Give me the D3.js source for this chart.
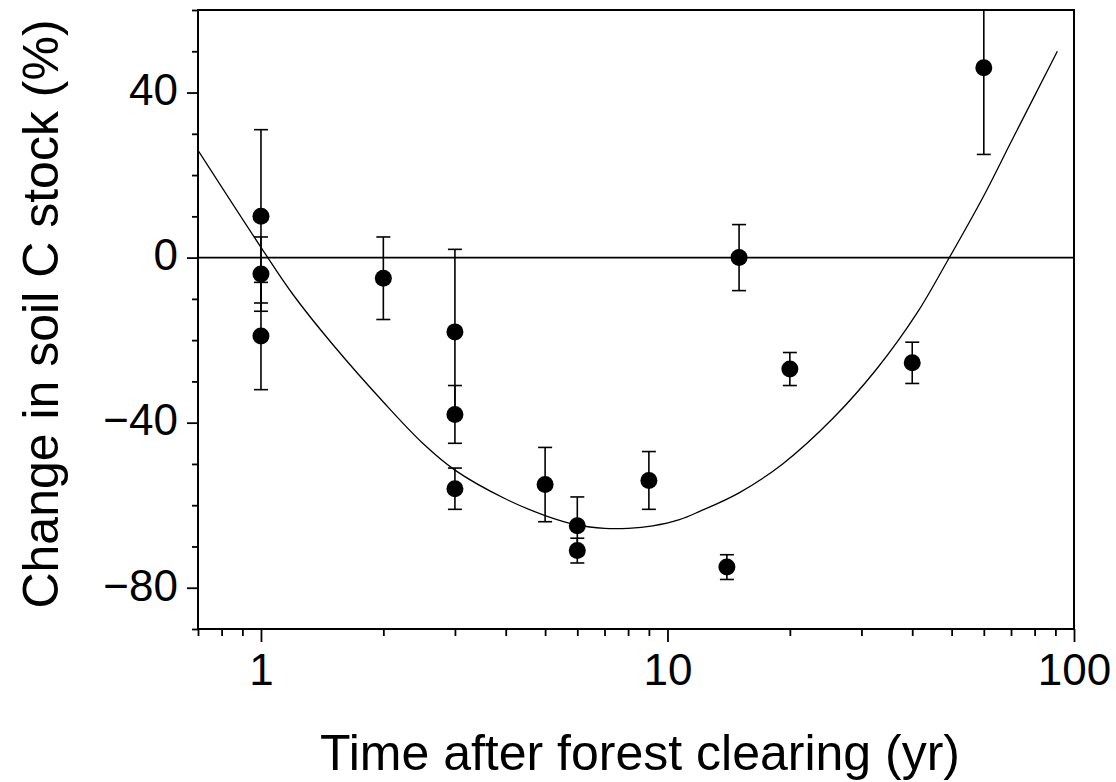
<!DOCTYPE html>
<html>
<head>
<meta charset="utf-8">
<script src="https://cdn.jsdelivr.net/npm/d3@7"></script>
<style>
  body { margin: 0; background: #fff; }
  text { font-family: "Liberation Sans", Arial, sans-serif; fill: #000; }
</style>
</head>
<body>
<div id="chart"></div>
<script>
// measured points: time after clearing (yr), change in soil C (%), error (+/-)
var years   = [1, 1, 1, 2, 3, 3, 3, 5, 6, 6, 9, 14, 15, 20, 40, 60];
var changes = [10, -4, -19, -5, -18, -38, -56, -55, -65, -71, -54, -75, 0, -27, -25.5, 46];
var errors  = [21, 9, 13, 10, 20, 7, 5, 9, 7, 3, 7, 3, 8, 4, 5, 21];

// fitted curve
var fitYears  = [0.7, 1, 1.2, 1.5, 2, 2.5, 3, 4, 5, 6, 7, 8, 9.2, 10.7, 12, 15, 19.2, 25.5, 32.7, 41, 48.7, 60, 70, 91];
var fitChange = [26, 2.5, -9, -21, -35, -45, -51.5, -58.5, -62.5, -64.8, -65.6, -65.6, -65, -63.5, -61.5, -57, -50, -39, -27, -13.6, -1, 15, 28, 50];

// ticks
var xMajor = [1, 10, 100];
var xMinor = [0.7, 0.8, 0.9, 2, 3, 4, 5, 6, 7, 8, 9, 20, 30, 40, 50, 60, 70, 80, 90];
var yMajor = [-80, -40, 0, 40];
var yMinor = [-90, -70, -60, -50, -30, -20, -10, 10, 20, 30, 50, 60];

var margin = {top: 10, right: 42, bottom: 153, left: 198},
    width = 1116 - margin.left - margin.right,
    height = 782 - margin.top - margin.bottom;

var svg = d3.select("#chart")
  .append("svg")
    .attr("width", 1116)
    .attr("height", 782)
  .append("g")
    .attr("transform", "translate(" + margin.left + "," + margin.top + ")");

var x = d3.scaleLog().domain([0.7, 100]).range([0, width]);
var y = d3.scaleLinear().domain([-90, 60]).range([height, 0]);

svg.append("clipPath").attr("id", "clip")
  .append("rect").attr("width", width).attr("height", height);

// x axis, minor then major
svg.append("g")
    .attr("transform", "translate(0," + height + ")")
    .call(d3.axisBottom(x).tickValues(xMinor).tickSize(7).tickFormat(""));
var gxMajor = svg.append("g")
    .attr("transform", "translate(0," + height + ")")
    .call(d3.axisBottom(x).tickValues(xMajor).tickSize(13).tickPadding(12)
      .tickFormat(function(d) { return d3.format("d")(d); }));
gxMajor.selectAll("text").attr("font-size", "44px").attr("dy", "0.71em");

// y axis
svg.append("g")
    .call(d3.axisLeft(y).tickValues(yMinor).tickSize(6).tickFormat(""));
var gyMajor = svg.append("g")
    .call(d3.axisLeft(y).tickValues(yMajor).tickSize(11).tickPadding(9)
      .tickFormat(function(d) { return d < 0 ? "\u2212" + Math.abs(d) : d; }));
gyMajor.selectAll("text").attr("font-size", "44px").attr("dy", "0.28em");

svg.selectAll(".domain").remove();
svg.selectAll(".tick line").attr("stroke", "#000").attr("stroke-width", 1.8);

// frame
svg.append("rect")
    .attr("width", width)
    .attr("height", height)
    .attr("fill", "none")
    .attr("stroke", "#000")
    .attr("stroke-width", 2);

var plot = svg.append("g").attr("clip-path", "url(#clip)");

// zero line
plot.append("line")
    .attr("x1", 0).attr("x2", width)
    .attr("y1", y(0)).attr("y2", y(0))
    .attr("stroke", "#000").attr("stroke-width", 1.6);

// fitted curve
var fit = fitYears.map(function(d, i) { return [d, fitChange[i]]; });
plot.append("path")
    .datum(fit)
    .attr("fill", "none")
    .attr("stroke", "#000")
    .attr("stroke-width", 1.3)
    .attr("d", d3.line()
      .x(function(d) { return x(d[0]); })
      .y(function(d) { return y(d[1]); })
      .curve(d3.curveCatmullRom));

// error bars
var pts = years.map(function(d, i) { return {t: d, v: changes[i], e: errors[i]}; });
var bars = plot.selectAll(".err").data(pts).enter().append("g").attr("class", "err")
    .attr("stroke", "#000").attr("stroke-width", 1.6);
bars.append("line")
    .attr("x1", function(d) { return x(d.t); })
    .attr("x2", function(d) { return x(d.t); })
    .attr("y1", function(d) { return y(d.v + d.e); })
    .attr("y2", function(d) { return y(d.v - d.e); });
bars.append("line")
    .attr("x1", function(d) { return x(d.t) - 7; })
    .attr("x2", function(d) { return x(d.t) + 7; })
    .attr("y1", function(d) { return y(d.v + d.e); })
    .attr("y2", function(d) { return y(d.v + d.e); });
bars.append("line")
    .attr("x1", function(d) { return x(d.t) - 7; })
    .attr("x2", function(d) { return x(d.t) + 7; })
    .attr("y1", function(d) { return y(d.v - d.e); })
    .attr("y2", function(d) { return y(d.v - d.e); });

// dots
plot.selectAll("circle").data(pts).enter().append("circle")
    .attr("cx", function(d) { return x(d.t); })
    .attr("cy", function(d) { return y(d.v); })
    .attr("r", 8.5)
    .attr("fill", "#000");

// axis titles
svg.append("text")
    .attr("text-anchor", "middle")
    .attr("font-size", "50px")
    .attr("x", 640 - margin.left)
    .attr("y", 770 - margin.top)
    .text("Time after forest clearing (yr)");

svg.append("text")
    .attr("text-anchor", "middle")
    .attr("font-size", "50px")
    .attr("transform", "translate(" + (58 - margin.left) + "," + (314 - margin.top) + ") rotate(-90)")
    .text("Change in soil C stock (%)");
</script>
</body>
</html>
